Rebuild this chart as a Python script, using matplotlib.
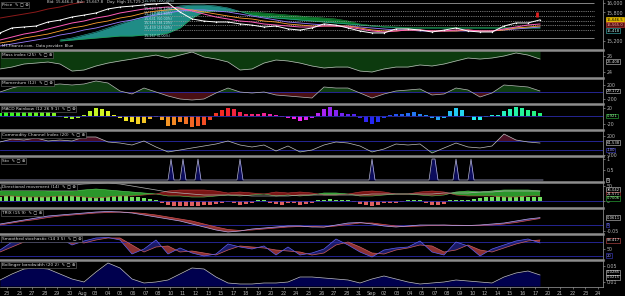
import numpy as np
import matplotlib
matplotlib.use('Agg')
import matplotlib.pyplot as plt
from matplotlib.colors import hsv_to_rgb

plt.rcParams['axes.unicode_minus'] = False
plt.rcParams['font.family'] = ['DejaVu Sans']

OUTPUT = 'out.png'
W, H, DPI = 625, 296, 100
CHART_W = 603      # pixels used by the chart, the value scale sits to its right
SLOTS = 201        # bar slots across the chart area (3 px per bar)
LINE_STEP = 4      # line series are sampled every 4 bars
HIST_STEP = 2      # histogram series every 2 bars

# ---------------------------------------------------------------- x axis
day_labels = ['23', '25', '27', '28', '29', '30', 'Aug', '03', '04', '05', '06', '07',
              '08', '10', '11', '12', '13', '15', '17', '18', '19', '20', '22', '24',
              '25', '26', '27', '28', '31', 'Sep', '02', '03', '04', '05', '07', '08',
              '09', '10', '12', '14', '15', '16', '17', '20', '21', '22', '23', '24']

# ---------------------------------------------------------------- price
price = [15370, 15475, 15495, 15515, 15600, 15640, 15705, 15745, 15790, 15875,
         15915, 15935, 15960, 15980, 16000, 15810, 15665, 15620, 15600, 15600,
         15560, 15535, 15495, 15515, 15455, 15430, 15475, 15560, 15535, 15475,
         15410, 15370, 15370, 15455, 15455, 15430, 15390, 15430, 15475, 15410,
         15390, 15390, 15515, 15580, 15580, 15645]
ma_fast = [15221, 15284, 15347, 15390, 15453, 15516, 15579, 15621, 15684, 15726,
           15790, 15832, 15874, 15895, 15916, 15895, 15832, 15768, 15705, 15663,
           15621, 15600, 15558, 15537, 15516, 15495, 15495, 15516, 15516, 15495,
           15453, 15411, 15390, 15411, 15432, 15432, 15411, 15411, 15432, 15432,
           15411, 15411, 15453, 15495, 15537, 15558]
ma_mid = [15158, 15200, 15263, 15305, 15347, 15411, 15474, 15516, 15579, 15621,
          15684, 15726, 15790, 15832, 15853, 15874, 15853, 15811, 15768, 15726,
          15684, 15663, 15621, 15600, 15558, 15537, 15516, 15516, 15516, 15516,
          15474, 15432, 15411, 15411, 15432, 15432, 15411, 15411, 15411, 15432,
          15411, 15411, 15432, 15474, 15495, 15516]
ma_slow = [15095, 15137, 15179, 15221, 15263, 15326, 15368, 15432, 15474, 15537,
           15600, 15642, 15705, 15747, 15790, 15832, 15853, 15853, 15832, 15811,
           15768, 15726, 15684, 15642, 15600, 15579, 15558, 15537, 15516, 15516,
           15495, 15474, 15453, 15432, 15432, 15411, 15411, 15411, 15411, 15411,
           15411, 15411, 15432, 15453, 15474, 15495]
nan = np.nan
span_a = [nan, nan, nan, nan, nan, 15221, 15263, 15326, 15390, 15474,
          15558, 15642, 15705, 15811, 15874, 15937, 15958, 15958, 15937, 15895,
          15821, 15747, 15705, 15684, 15663, 15642, 15621, 15600, 15579, 15558,
          15537, 15516, 15495, 15484, 15474, 15474, 15474, 15474, 15474, 15474,
          15474, 15474, 15474, 15474, 15474, 15474]
span_b = [nan, nan, nan, nan, nan, 15200, 15221, 15242, 15263, 15284,
          15305, 15305, 15326, 15326, 15368, 15474, 15684, 15811, 15832, 15832,
          15821, 15811, 15790, 15768, 15747, 15726, 15705, 15684, 15663, 15621,
          15558, 15526, 15505, 15495, 15484, 15484, 15484, 15484, 15484, 15484,
          15484, 15484, 15484, 15484, 15484, 15484]
chikou = [15684, 15726, 15768, 15811, 15874, 15916, 15979, 16021]
alert_bar, alert_low, alert_high = 179, 15700, 15810
fib_levels = [15267, 15439, 15545, 15631, 15717, 15823, 15995]
fib_names = ['15,267 (0.00%)', '15,439 (23.60%)', '15,545 (38.20%)', '15,631 (50.00%)',
             '15,717 (61.80%)', '15,823 (76.40%)', '15,995 (100.00%)']

# ---------------------------------------------------------------- indicators
mass = [24.38, 24.62, 25.0, 25.12, 25.25, 25.0, 24.12, 24.25, 24.75, 25.12,
        25.38, 25.62, 25.88, 26.12, 25.75, 26.12, 26.5, 25.88, 25.62, 25.25,
        24.25, 24.38, 25.12, 25.5, 25.38, 25.12, 24.75, 24.5, 24.62, 24.62,
        24.12, 24.0, 24.38, 24.62, 24.62, 24.88, 24.75, 25.0, 25.38, 25.75,
        25.62, 25.75, 26.0, 26.38, 26.12, 25.62]
momentum = [0, 114, 200, 200, 200, 229, 200, 229, 315, 257,
            29, -57, 114, 0, -114, -200, -229, -200, -29, 114,
            0, -29, 0, -86, -114, -143, -172, 143, 114, 114,
            -29, -172, -57, 29, 57, 86, -86, -57, 114, 57,
            -143, -29, 200, 172, 143, 29]
macd_hist = [8, 10, 11, 12, 12, 13, 13, 12, 11, 7,
             -2, -5, -7, -4, 3, 12, 20, 18, 12, 3,
             -6, -12, -16, -20, -18, -8, -3, -10, -25, -22,
             -15, -20, -27, -25, -22, -10, 8, 15, 20, 17,
             10, 6, 5, 6, 7, 6, 2, -3, -5, -8,
             -12, -10, -4, 8, 18, 22, 15, 8, 6, 4,
             -5, -15, -20, -15, -5, 2, 5, 6, 8, 9,
             6, 3, -6, -10, -4, 12, 20, 14, -3, -10,
             -10, -3, 2, 3, 12, 18, 22, 20, 16, 12,
             7]
cci = [78, 144, 122, 167, 100, 122, 100, 189, 189, 78,
       55, 11, 100, -33, -144, -100, -55, -11, 33, 100,
       11, -33, 11, -122, -11, -144, -100, 11, 78, 55,
       -11, -144, -78, 33, 11, 33, -167, -55, 55, -33,
       -55, -11, 255, 122, 78, 55]
sto_hits = [57, 61, 66, 80, 124, 144, 145, 152, 157]
sto_last_bar = 181
di_plus = [33.3, 36.7, 36.7, 36.7, 33.3, 33.3, 33.3, 36.7, 40, 36.7,
           33.3, 30, 26.7, 23.3, 16.7, 16.7, 13.3, 13.3, 16.7, 20,
           16.7, 20, 23.3, 16.7, 20, 16.7, 20, 26.7, 26.7, 23.3,
           16.7, 16.7, 20, 23.3, 23.3, 20, 16.7, 20, 30, 33.3,
           30, 33.3, 36.7, 36.7, 36.7, 33.3]
di_minus = [16.7, 16.7, 13.3, 13.3, 13.3, 16.7, 16.7, 13.3, 10, 13.3,
            16.7, 16.7, 20, 23.3, 33.3, 36.7, 36.7, 36.7, 33.3, 26.7,
            30, 26.7, 23.3, 30, 26.7, 30, 26.7, 20, 20, 23.3,
            30, 33.3, 30, 23.3, 23.3, 30, 33.3, 30, 20, 16.7,
            16.7, 16.7, 13.3, 13.3, 16.7, 16.7]
adx = [43.3, 46.7, 50, 50, 50, 53.3, 53.3, 56.7, 58.3, 60,
       56.7, 50, 43.3, 36.7, 30, 26.7, 23.3, 20, 20, 20,
       20, 16.7, 16.7, 16.7, 16.7, 20, 20, 20, 20, 20,
       20, 23.3, 23.3, 23.3, 23.3, 23.3, 23.3, 26.7, 26.7, 26.7,
       30, 30, 33.3, 33.3, 33.3, 33.3]
dmi_hist = [15, 20, 23, 23, 25, 25, 25, 23, 22, 22,
            20, 20, 22, 23, 25, 27, 27, 25, 23, 20,
            18, 17, 15, 12, 10, 7, 3, -5, -12, -15,
            -15, -17, -17, -15, -13, -12, -10, -5, -3, -8,
            -12, -10, -5, 3, 2, -5, -10, -12, -8, -5,
            -12, -10, -5, 2, 5, 6, 5, 3, 2, -3,
            -10, -13, -15, -12, -5, -8, -6, -2, 2, 3,
            5, -5, -12, -13, -10, 3, 5, 3, 4, 8,
            10, 12, 15, 18, 20, 18, 15, 18, 15, 12,
            15]
trix = [0.0083, 0.025, 0.0417, 0.0583, 0.075, 0.0833, 0.0917, 0.1, 0.1083, 0.1125,
        0.1083, 0.1, 0.0833, 0.0667, 0.05, 0.0333, 0.0083, -0.0167, -0.0417, -0.0583,
        -0.05, -0.0333, -0.025, -0.0167, -0.0083, -0.0083, -0.0167, -0.0167, 0.0, 0.0167,
        0.0208, 0.0083, -0.0083, -0.0167, -0.0083, 0.0, 0.0, 0.0, -0.0042, -0.0042,
        0.0, 0.0083, 0.0167, 0.0333, 0.05, 0.0611]
trix_signal = [0.0, 0.0167, 0.0333, 0.0458, 0.0625, 0.075, 0.0833, 0.0917, 0.1, 0.1042,
               0.1083, 0.1042, 0.0958, 0.0833, 0.0667, 0.05, 0.0333, 0.0083, -0.0167, -0.0375,
               -0.0458, -0.0417, -0.0333, -0.025, -0.0167, -0.0125, -0.0125, -0.0167, -0.0083, 0.0042,
               0.0167, 0.0167, 0.0042, -0.0083, -0.0125, -0.0083, -0.0042, -0.0017, -0.0017, -0.0033,
               -0.0025, 0.0, 0.0083, 0.0208, 0.0375, 0.0542]
stoch_k = [44.5, 80, 88.9, 93.3, 97.8, 97.8, 66.7, 84.5, 97.8, 100,
           88.9, 26.7, 48.9, 88.9, 26.7, 53.4, 31.2, 17.9, 26.7, 71.1,
           57.8, 48.9, 62.3, 22.3, 57.8, 22.3, 31.2, 48.9, 93.3, 66.7,
           35.6, 13.4, 44.5, 53.4, 57.8, 84.5, 35.6, 22.3, 80, 62.3,
           17.9, 48.9, 66.7, 84.5, 93.3, 75.6]
stoch_d = [35.6, 57.8, 80, 88.9, 93.3, 95.6, 84.5, 75.6, 88.9, 97.8,
           97.8, 66.7, 35.6, 57.8, 62.3, 35.6, 40, 31.2, 22.3, 44.5,
           62.3, 57.8, 53.4, 44.5, 40, 35.6, 22.3, 31.2, 66.7, 80,
           57.8, 31.2, 26.7, 44.5, 53.4, 66.7, 62.3, 35.6, 44.5, 66.7,
           44.5, 35.6, 53.4, 71.1, 84.5, 88.9]
bb_width = [0.015, 0.03, 0.0425, 0.045, 0.0425, 0.03, 0.0175, 0.01, 0.035, 0.0575,
            0.045, 0.0175, 0.0075, 0.01, 0.015, 0.03, 0.045, 0.0425, 0.0225, 0.0075,
            0.005, 0.005, 0.0075, 0.0075, 0.01, 0.0225, 0.0225, 0.02, 0.0175, 0.015,
            0.0075, 0.0175, 0.025, 0.0175, 0.01, 0.005, 0.0075, 0.01, 0.015, 0.0125,
            0.01, 0.0075, 0.0225, 0.0325, 0.0375, 0.0275]

line_x = np.arange(len(price)) * LINE_STEP
hist_x = np.arange(len(macd_hist)) * HIST_STEP

BLUE_REF = '#2a2aa8'
fig = plt.figure(figsize=(W / DPI, H / DPI), dpi=DPI, facecolor='black')


def add_panel(top, bottom, ylim, title, yticks, ylabels=None, separator=True):
    ax = fig.add_axes([0, 1 - bottom / H, CHART_W / W, (bottom - top) / H])
    ax.set_facecolor('black')
    ax.set_xlim(0, SLOTS)
    ax.set_ylim(*ylim)
    ax.spines['left'].set_visible(False)
    ax.spines['bottom'].set_visible(False)
    ax.spines['top'].set_visible(separator)
    ax.spines['top'].set_color('#8c8c8c')
    ax.spines['top'].set_linewidth(1.8)
    ax.spines['right'].set_color('#a0a0a0')
    ax.spines['right'].set_linewidth(0.5)
    ax.set_xticks([])
    ax.yaxis.tick_right()
    ax.set_yticks(yticks)
    if ylabels:
        ax.set_yticklabels(ylabels)
    ax.tick_params(axis='y', colors='#b4b4b4', labelsize=3.4, length=1.5, width=0.4, pad=1)
    ax.annotate(title + '  \u270e \u25a2 \u2297', xy=(0, 1), xycoords='axes fraction',
                xytext=(1.2, -2.0), textcoords='offset points', ha='left', va='top',
                fontsize=3.1, color='#d8d8d8', zorder=10,
                bbox=dict(boxstyle='square,pad=0.25', fc='black', ec='#6c6c6c', lw=0.4))
    return ax


def value_box(ax, y, text, edge='#d0d0d0', face='black', color='#e8e8e8'):
    ax.annotate(text, xy=(1, y), xycoords=ax.get_yaxis_transform(), xytext=(2.4, 0),
                textcoords='offset points', ha='left', va='center', fontsize=2.7,
                color=color, annotation_clip=False, zorder=10,
                bbox=dict(boxstyle='square,pad=0.12', fc=face, ec=edge, lw=0.4))


# ---------------------------------------------------------------- price panel
ax = add_panel(0, 50, (15011, 16063), 'Price', [15200, 15800, 16000],
               ['15,200', '15,800', '16,000'], separator=False)
a = np.array(span_a)
b = np.array(span_b)
ax.fill_between(line_x, a, b, where=a >= b, color='#1f8c86', lw=0, interpolate=True)
ax.fill_between(line_x, a, b, where=b >= a, color='#0b7a2c', lw=0, interpolate=True)
ax.plot(line_x, a, color='#2fb0a8', lw=0.4)
ax.plot(line_x, b, color='#1aa040', lw=0.4)
for k, lvl in enumerate(fib_levels):
    style = '-' if k in (0, len(fib_levels) - 1) else (0, (1, 1.2))
    ax.hlines(lvl, 48, 198, color='#9a9a9a', lw=0.6, linestyles=style)
    ax.text(48, lvl, fib_names[k], fontsize=2.4, color='#b8e8f0', ha='left', va='bottom')
ax.plot(line_x[:len(chikou)], chikou, color='#8b1a1a', lw=0.7)
ax.plot(line_x, ma_slow, color='#9a7cff', lw=0.6)
ax.plot(line_x, ma_mid, color='#ffa030', lw=0.6)
ax.plot(line_x, ma_fast, color='#ff5cb8', lw=0.7)
ax.plot(line_x, price, color='white', lw=0.7, marker='s', ms=0.9, mew=0)
ax.vlines(alert_bar, alert_low, alert_high, color='#e02020', lw=2.0)
ax.text(15.7, 16020, 'Bid: 15,646.4   Ask: 15,667.8   Day: High 15,729.2',
        fontsize=2.8, color='#d0d0d0', ha='left', va='center')
ax.text(0.7, 15090, 'MT-Finance.com,  Data provider: Blue', fontsize=2.7,
        color='#e0e0e0', ha='left', va='center')
value_box(ax, 15646.5, '15,646.5', edge='#ffd000', face='#e0b800', color='black')
value_box(ax, 15540, '15,565.0', edge='#d04040', face='#5a1010', color='#ffb0b0')
value_box(ax, 15418, '15,418', edge='#40c0c0', color='#c0ffff')

# ---------------------------------------------------------------- mass index
ax = add_panel(50, 78, (23.25, 26.75), 'Mass index (25)', [24, 26])
ax.fill_between(line_x, mass, ax.get_ylim()[1], color='#0c3a0e', lw=0)
ax.plot(line_x, mass, color='#c0c0c0', lw=0.5)
value_box(ax, 25.3, '25.408')

# ---------------------------------------------------------------- momentum
ax = add_panel(78, 104, (-343, 400), 'Momentum (12)', [-200, 200])
m = np.array(momentum)
ax.axhline(0, color=BLUE_REF, lw=0.6)
ax.fill_between(line_x, m, 0, where=m >= 0, color='#0f3d12', lw=0, interpolate=True)
ax.fill_between(line_x, m, 0, where=m <= 0, color='#4a0f14', lw=0, interpolate=True)
ax.plot(line_x, m, color='#b8b8b8', lw=0.5)
value_box(ax, 29.172, '29.172')

# ---------------------------------------------------------------- MACD rainbow
ax = add_panel(104, 130, (-35, 30), 'MACD Rainbow (12 26 9 1)', [-20, 20])
ax.axhline(0, color=BLUE_REF, lw=0.6)
hue = np.interp(hist_x, [0, 33, 75, 123, 180], [0.33, 0.2, 0.0, -0.33, -0.6]) % 1.0
rainbow = hsv_to_rgb(np.column_stack([hue, np.full_like(hue, 0.85), np.full_like(hue, 0.95)]))
ax.bar(hist_x, macd_hist, width=1.5, color=rainbow, lw=0)
value_box(ax, 0, '0.921', edge='#30c040', color='#a0ffa0')

# ---------------------------------------------------------------- CCI
ax = add_panel(130, 156, (-233, 344), 'Commodity Channel Index (20)', [-200, 200])
c = np.array(cci)
ax.axhline(100, color=BLUE_REF, lw=0.6)
ax.axhline(-100, color=BLUE_REF, lw=0.6)
ax.fill_between(line_x, c, 100, where=c >= 100, color='#4a1024', lw=0, interpolate=True)
ax.fill_between(line_x, c, -100, where=c <= -100, color='#0d3d1a', lw=0, interpolate=True)
ax.plot(line_x, c, color='#c0c0c0', lw=0.5)
value_box(ax, 61.5, '61.538')
value_box(ax, -100, '-100', edge='#4040d0', color='#a0a0ff')

# ---------------------------------------------------------------- Sto signal
ax = add_panel(156, 182, (-0.095, 1.143), 'Sto', [0.5, 1], ['0.5', '1'])
sto_x = np.arange(sto_last_bar + 1)
sto = np.zeros(len(sto_x))
sto[sto_hits] = 1
ax.fill_between(sto_x, 0, sto, color='#0c0c5c', lw=0)
ax.plot(sto_x, sto, color='#b8b8e0', lw=0.5)
value_box(ax, 0, '0')

# ---------------------------------------------------------------- directional movement
ax = add_panel(182, 208, (-23.3, 63.3), 'Directional movement (14)', [0, 50])
p = np.array(di_plus)
n = np.array(di_minus)
ax.axhline(0, color=BLUE_REF, lw=0.6)
h = np.array(dmi_hist)
ax.bar(hist_x, h, width=1.4, color=np.where(h >= 0, '#70e060', '#e06060'), lw=0)
ax.fill_between(line_x, p, n, where=p >= n, color='#2a962a', lw=0, interpolate=True)
ax.fill_between(line_x, p, n, where=n >= p, color='#7a1515', lw=0, interpolate=True)
ax.plot(line_x, p, color='#60d060', lw=0.4)
ax.plot(line_x, n, color='#c04040', lw=0.4)
ax.plot(line_x, adx, color='#b0b0b0', lw=0.5)
value_box(ax, 38, '36.042')
value_box(ax, 23.3, '21.571', edge='#c04040')
value_box(ax, 9, '0.7006', edge='#30c040', color='#a0ffa0')

# ---------------------------------------------------------------- TRIX
ax = add_panel(208, 234, (-0.075, 0.1417), 'TRIX (15 9)', [-0.05], ['-0.05'])
t = np.array(trix)
s = np.array(trix_signal)
ax.axhline(0, color=BLUE_REF, lw=0.6)
ax.fill_between(line_x, t, s, where=s >= t, color='#8b3030', lw=0, interpolate=True)
ax.fill_between(line_x, t, s, where=t >= s, color='#3a2a7a', lw=0, interpolate=True)
ax.plot(line_x, s, color='#d05050', lw=0.5)
ax.plot(line_x, t, color='#b8a8e8', lw=0.5)
value_box(ax, 0.0611, '0.0611')
value_box(ax, 0, '0', edge='#4040d0', color='#a0a0ff')

# ---------------------------------------------------------------- smoothed stochastic
ax = add_panel(234, 260, (0.1, 115.5), 'Smoothed stochastic (14 3 5)', [50])
k = np.array(stoch_k)
d = np.array(stoch_d)
ax.axhline(80, color=BLUE_REF, lw=0.6)
ax.axhline(20, color=BLUE_REF, lw=0.6)
ax.fill_between(line_x, k, d, where=d >= k, color='#8b3030', lw=0, interpolate=True)
ax.fill_between(line_x, k, d, where=k >= d, color='#1a1a66', lw=0, interpolate=True)
ax.plot(line_x, d, color='#d06060', lw=0.5)
ax.plot(line_x, k, color='#6060f0', lw=0.5)
value_box(ax, 88.4, '88.417', edge='#d05050')
value_box(ax, 20, '20', edge='#4040d0', color='#a0a0ff')

# ---------------------------------------------------------------- bollinger bandwidth
ax = add_panel(260, 287, (-0.0025, 0.065), 'Bollinger bandwidth (20 2)', [0.01, 0.05])
ax.fill_between(line_x, bb_width, 0, color='#00004e', lw=0)
ax.plot(line_x, bb_width, color='#c0c0d0', lw=0.5)
value_box(ax, 0.034, '0.0285')
value_box(ax, 0.0215, '0.0215')
ax.spines['bottom'].set_visible(True)
ax.spines['bottom'].set_color('#a0a0a0')
ax.spines['bottom'].set_linewidth(0.5)
ax.set_xticks(np.linspace(7, 598, len(day_labels)) / 3)
ax.set_xticklabels(day_labels)
ax.tick_params(axis='x', colors='#b4b4b4', labelsize=3.6, length=1.5, width=0.4, pad=1.2)

fig.savefig(OUTPUT, dpi=DPI, facecolor='black')
print(f'Saved {OUTPUT}')
